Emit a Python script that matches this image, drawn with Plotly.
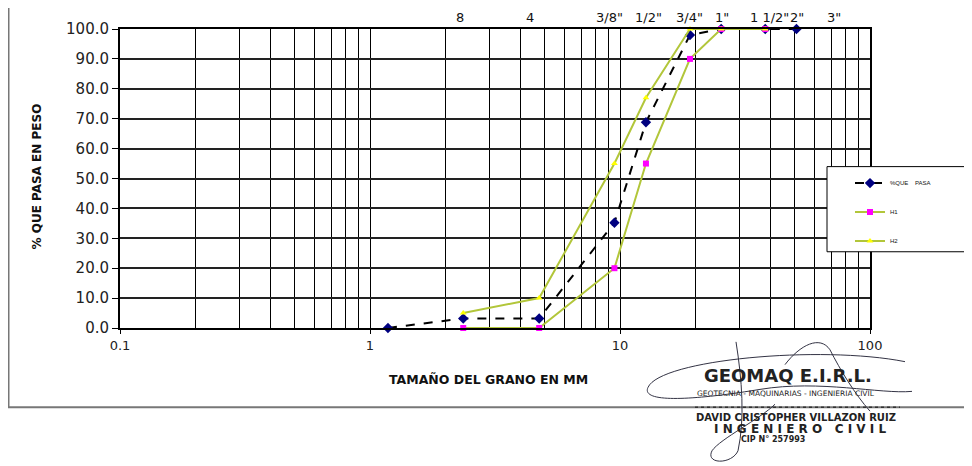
import numpy as np
import plotly.graph_objects as go

# ---------------- data ----------------
sizes_pasa = [1.18, 2.36, 4.75, 9.5, 12.7, 19.05, 25.4, 38.1, 50.8]
pct_pasa = [0.0, 3.2, 3.2, 35.2, 68.8, 98.0, 100.0, 100.0, 100.0]

sizes_h = [2.36, 4.75, 9.5, 12.7, 19.05, 25.4, 38.1]
h1 = [0.0, 0.0, 20.0, 55.0, 90.0, 100.0, 100.0]
h2 = [5.0, 10.0, 55.0, 77.0, 100.0, 100.0, 100.0]

sieve_labels = ["8", "4", "3/8\"", "1/2\"", "3/4\"", "1\"", "1 1/2\"", "2\"", "3\""]
sieve_sizes = [2.36, 4.75, 9.5, 12.7, 19.05, 25.4, 38.1, 50.8, 76.2]

x_tickvals = [0.1, 1, 10, 100]
x_ticktext = ["0.1", "1", "10", "100"]
minor_vals = [m * d for d in (0.1, 1, 10) for m in range(2, 10)]

# ---------------- geometry helpers (page pixel -> paper) ----------------
# page has an 8px body margin, so the figure is 8px smaller than the window
W, H = 964, 458
L, R, T, B = 112, 102, 18, 138
PW, PH = W - L - R, H - T - B
PLOT_LEFT_PAGE, PLOT_BOTTOM_PAGE = 120, 328


def px(x):
    return (x - PLOT_LEFT_PAGE) / PW


def py(y):
    return (PLOT_BOTTOM_PAGE - y) / PH


GREEN = "#B2C63A"
fig = go.Figure()

fig.add_trace(go.Scatter(
    x=sizes_pasa, y=pct_pasa, name="%QUE\u00a0\u00a0\u00a0\u00a0PASA", mode="lines+markers",
    line=dict(color="black", width=2, dash="dash"),
    marker=dict(symbol="diamond", color="#000080", size=8),
    cliponaxis=False, legendgroup="a"))
fig.add_trace(go.Scatter(
    x=sizes_h, y=h1, name="H1", mode="lines+markers",
    line=dict(color=GREEN, width=2),
    marker=dict(symbol="square", color="#FF00FF", size=6),
    cliponaxis=False, legendgroup="b"))
fig.add_trace(go.Scatter(
    x=sizes_h, y=h2, name="H2", mode="lines+markers",
    line=dict(color=GREEN, width=2),
    marker=dict(symbol="triangle-up", color="#FFFF00", size=6),
    cliponaxis=False, legendgroup="c"))

label_shift = [-3, -9, -5, 3, 0, 1, 4, 1, -6]
annotations = []
for lab, s, sh in zip(sieve_labels, sieve_sizes, label_shift):
    annotations.append(dict(x=np.log10(s), y=py(14), xref="x", yref="paper", text=lab, xshift=sh,
                            showarrow=False, font=dict(family="DejaVu Sans", size=13, color="#111"),
                            xanchor="center", yanchor="middle"))

annotations.append(dict(x=px(37), y=py(175), xref="paper", yref="paper", text="<b>% QUE PASA EN PESO</b>",
                        textangle=-90, showarrow=False, xanchor="center", yanchor="middle",
                        font=dict(family="DejaVu Sans", size=12, color="#111")))
annotations.append(dict(x=px(488), y=py(380), xref="paper", yref="paper", text="<b>TAMAÑO DEL GRANO EN MM</b>",
                        showarrow=False, xanchor="center", yanchor="middle",
                        font=dict(family="DejaVu Sans", size=12.5, color="#111")))

# stamp texts
stamp = [
    ("<b>GEOMAQ E.I.R.L.</b>", 788, 376, 18, "DejaVu Sans"),
    ("GEOTECNIA - MAQUINARIAS - INGENIERIA CIVIL", 786, 394, 7.5, "DejaVu Sans"),
    ("<b>DAVID CRISTOPHER VILLAZON RUIZ</b>", 796, 418, 10, "DejaVu Sans"),
    ("<b>I N G E N I E R O   C I V I L</b>", 800, 430, 12, "DejaVu Sans"),
    ("<b>CIP N° 257993</b>", 773, 441, 8, "DejaVu Sans"),
]
for t, x, y, s, f in stamp:
    annotations.append(dict(x=px(x), y=py(y), xref="paper", yref="paper", text=t, showarrow=False,
                            font=dict(family=f, size=s, color="#222"), xanchor="center", yanchor="middle"))

shapes = [
    # outer border
    dict(type="line", xref="paper", yref="paper", x0=px(8.5), x1=px(8.5), y0=py(0), y1=py(408),
         line=dict(color="#777", width=2)),
    dict(type="line", xref="paper", yref="paper", x0=px(8), x1=px(975), y0=py(408), y1=py(408),
         line=dict(color="#777", width=2)),
    # legend box
    dict(type="rect", xref="paper", yref="paper", x0=px(827), x1=px(980), y0=py(251), y1=py(165),
         fillcolor="white", line=dict(color="black", width=1), layer="above"),
    # stamp dotted line
    dict(type="line", xref="paper", yref="paper", x0=px(695), x1=px(900), y0=py(408), y1=py(408),
         line=dict(color="#333", width=1.5, dash="dot")),
    # signature loops
    dict(type="path", xref="paper", yref="paper",
         path=f"M {px(905)},{py(362)} C {px(820)},{py(345)} {px(660)},{py(360)} {px(648)},{py(388)} "
              f"C {px(640)},{py(405)} {px(700)},{py(400)} {px(760)},{py(390)} "
              f"C {px(820)},{py(380)} {px(880)},{py(395)} {px(912)},{py(392)}",
         line=dict(color="#334", width=1)),
    dict(type="path", xref="paper", yref="paper",
         path=f"M {px(736)},{py(342)} C {px(742)},{py(380)} {px(745)},{py(420)} {px(738)},{py(452)} "
              f"C {px(732)},{py(466)} {px(705)},{py(466)} {px(712)},{py(452)} "
              f"C {px(720)},{py(440)} {px(760)},{py(420)} {px(775)},{py(405)}",
         line=dict(color="#334", width=1)),
    dict(type="path", xref="paper", yref="paper",
         path=f"M {px(785)},{py(365)} C {px(800)},{py(345)} {px(820)},{py(335)} {px(830)},{py(350)} "
              f"C {px(840)},{py(370)} {px(855)},{py(395)} {px(870)},{py(412)}",
         line=dict(color="#334", width=1)),
]

fig.update_layout(
    width=W, height=H,
    margin=dict(l=L, r=R, t=T, b=B, pad=0),
    paper_bgcolor="white", plot_bgcolor="white",
    showlegend=True,
    legend=dict(x=px(850), y=py(167), xanchor="left", yanchor="top", bgcolor="rgba(0,0,0,0)",
                borderwidth=0, tracegroupgap=10,
                font=dict(family="Liberation Sans", size=6, color="#111")),
    annotations=annotations,
    shapes=shapes,
    xaxis=dict(type="log", range=[-1, 2], tickvals=x_tickvals, ticktext=x_ticktext,
               showgrid=True, gridcolor="black", gridwidth=1,
               minor=dict(tickmode="array", tickvals=minor_vals, showgrid=True, gridcolor="black", gridwidth=1),
               ticks="outside", ticklen=4, tickcolor="black",
               showline=True, linecolor="black", linewidth=2, mirror=True,
               tickfont=dict(family="DejaVu Sans", size=13, color="#222"), zeroline=False),
    yaxis=dict(range=[0, 100], dtick=10, tickformat=".1f",
               showgrid=True, gridcolor="#222", gridwidth=1.5,
               ticks="outside", ticklen=6, tickcolor="black",
               showline=True, linecolor="black", linewidth=2, mirror=True,
               tickfont=dict(family="DejaVu Sans", size=15, color="#222"), zeroline=False),
)

fig.write_html("out.html")
